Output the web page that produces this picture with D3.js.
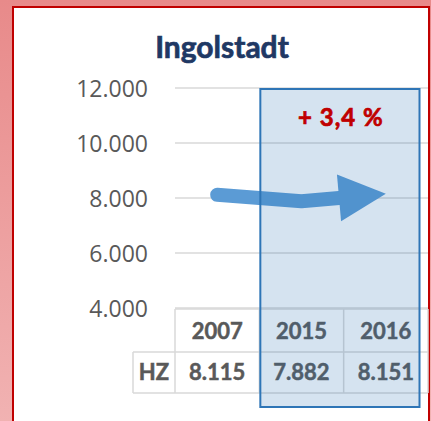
<!DOCTYPE html>
<html><head><meta charset="utf-8">
<script src="https://cdn.jsdelivr.net/npm/d3@7"></script>
<style>html,body{margin:0;padding:0;overflow:hidden;background:#fff}</style>
</head><body>
<svg id="c" width="431" height="421"></svg>
<script>
const title = "Ingolstadt";
const categories = ["2007", "2015", "2016"];
const seriesName = "HZ";
const values = [8115, 7882, 8151];
const yTicks = [4000, 6000, 8000, 10000, 12000];
const changeLabel = "+ 3,4 %";
const highlightFrom = "2015";

const svg = d3.select("#c");
const W = 431, H = 421;
const de = d3.formatLocale({decimal: ",", thousands: ".", grouping: [3], currency: ["", " €"]});
const fmt = de.format(",d");

// background
const defs = svg.append("defs");
const g = defs.append("linearGradient").attr("id", "bg").attr("x1", 0).attr("y1", 0).attr("x2", 0).attr("y2", 1);
g.append("stop").attr("offset", 0).attr("stop-color", "#e88a8a");
g.append("stop").attr("offset", 1).attr("stop-color", "#f1b2b2");
svg.append("rect").attr("width", W).attr("height", H).attr("fill", "url(#bg)");
svg.append("rect").attr("x", 13).attr("y", 7).attr("width", 416).attr("height", H + 10)
  .attr("fill", "#fff").attr("stroke", "#c00000").attr("stroke-width", 2);

const plotL = 175, plotR = 428, plotT = 88, plotB = 308;
const x = d3.scaleBand().domain(categories).range([plotL, plotR]).padding(0);
const y = d3.scaleLinear().domain([d3.min(yTicks), d3.max(yTicks)]).range([plotB, plotT]);

// title
svg.append("text").attr("x", 222).attr("y", 58).attr("text-anchor", "middle")
  .attr("font-family", "Lato, sans-serif").attr("font-weight", "bold").attr("font-size", 30)
  .attr("fill", "#1f3864").attr("stroke", "#1f3864").attr("stroke-width", 0.7).text(title);

// gridlines
svg.append("g").selectAll("line").data(yTicks).join("line")
  .attr("x1", plotL).attr("x2", plotR).attr("y1", d => y(d)).attr("y2", d => y(d))
  .attr("stroke", "#d9d9d9").attr("stroke-width", 1.5);

// y axis labels
const yAxis = d3.axisLeft(y).tickValues(yTicks).tickFormat(fmt).tickSize(0).tickPadding(0);
const ya = svg.append("g").attr("transform", `translate(148,0)`).call(yAxis);
ya.select(".domain").remove();
ya.selectAll("text").attr("font-family", "'Open Sans', sans-serif").attr("font-size", 23)
  .attr("fill", "#595959").attr("dy", "0.36em");

// data table
const rowTop = 309, rowMid = 352, rowBot = 393, hzL = 133;
const tbl = svg.append("g").attr("stroke", "#d9d9d9").attr("stroke-width", 1.5);
tbl.append("line").attr("x1", plotL).attr("x2", plotR).attr("y1", rowTop).attr("y2", rowTop);
tbl.append("line").attr("x1", hzL).attr("x2", plotR).attr("y1", rowMid).attr("y2", rowMid);
tbl.append("line").attr("x1", hzL).attr("x2", plotR).attr("y1", rowBot).attr("y2", rowBot);
tbl.append("line").attr("x1", hzL).attr("x2", hzL).attr("y1", rowMid).attr("y2", rowBot);
tbl.selectAll(".v").data(categories.map(c => x(c)).concat([plotR])).join("line")
  .attr("x1", d => d).attr("x2", d => d).attr("y1", rowTop).attr("y2", rowBot);

const tf = sel => sel.attr("font-family", "Lato, sans-serif").attr("font-weight", "bold")
  .attr("font-size", 22).attr("fill", "#595959").attr("stroke", "#595959").attr("stroke-width", 0.5)
  .attr("text-anchor", "middle");
svg.append("g").selectAll("text").data(categories).join("text")
  .attr("x", d => x(d) + x.bandwidth() / 2).attr("y", (rowTop + rowMid) / 2 + 8).text(d => d).call(tf);
svg.append("g").selectAll("text").data(values).join("text")
  .attr("x", (d, i) => x(categories[i]) + x.bandwidth() / 2).attr("y", (rowMid + rowBot) / 2 + 7)
  .text(d => fmt(d)).call(tf);
svg.append("text").attr("x", (hzL + plotL) / 2).attr("y", (rowMid + rowBot) / 2 + 7).text(seriesName).call(tf);

// arrow line through data points
const pts = values.map((v, i) => [x(categories[i]) + x.bandwidth() / 2, y(v)]);
const tip = pts[pts.length - 1], prev = pts[pts.length - 2];
const dx = tip[0] - prev[0], dy = tip[1] - prev[1], len = Math.hypot(dx, dy);
const ux = dx / len, uy = dy / len;
const headLen = 47, headHalf = 23.5;
const base = [tip[0] - ux * headLen, tip[1] - uy * headLen];
const linePts = pts.slice(0, -1).concat([base]);
const arrowColor = "#5b9bd5";
svg.append("path").attr("d", d3.line()(linePts)).attr("fill", "none")
  .attr("stroke", arrowColor).attr("stroke-width", 14).attr("stroke-linecap", "round").attr("stroke-linejoin", "round");
svg.append("path").attr("d", d3.line()([
    [base[0] - uy * headHalf, base[1] + ux * headHalf], tip,
    [base[0] + uy * headHalf, base[1] - ux * headHalf]]) + "Z")
  .attr("fill", arrowColor);

// highlight rect
const hx0 = x(highlightFrom) + 1, hx1 = 419.5, hy0 = plotT + 1, hy1 = 407;
svg.append("rect").attr("x", hx0).attr("y", hy0).attr("width", hx1 - hx0).attr("height", hy1 - hy0)
  .attr("fill", "#2e75b6").attr("fill-opacity", 0.2).attr("stroke", "#2e75b6").attr("stroke-width", 2);

svg.append("text").attr("x", (hx0 + hx1) / 2 + 1).attr("y", 126).attr("text-anchor", "middle")
  .attr("font-family", "Lato, sans-serif").attr("font-weight", "bold").attr("font-size", 24)
  .attr("letter-spacing", 1).attr("fill", "#c00000").attr("stroke", "#c00000").attr("stroke-width", 0.7)
  .text(changeLabel);
</script>
</body></html>
